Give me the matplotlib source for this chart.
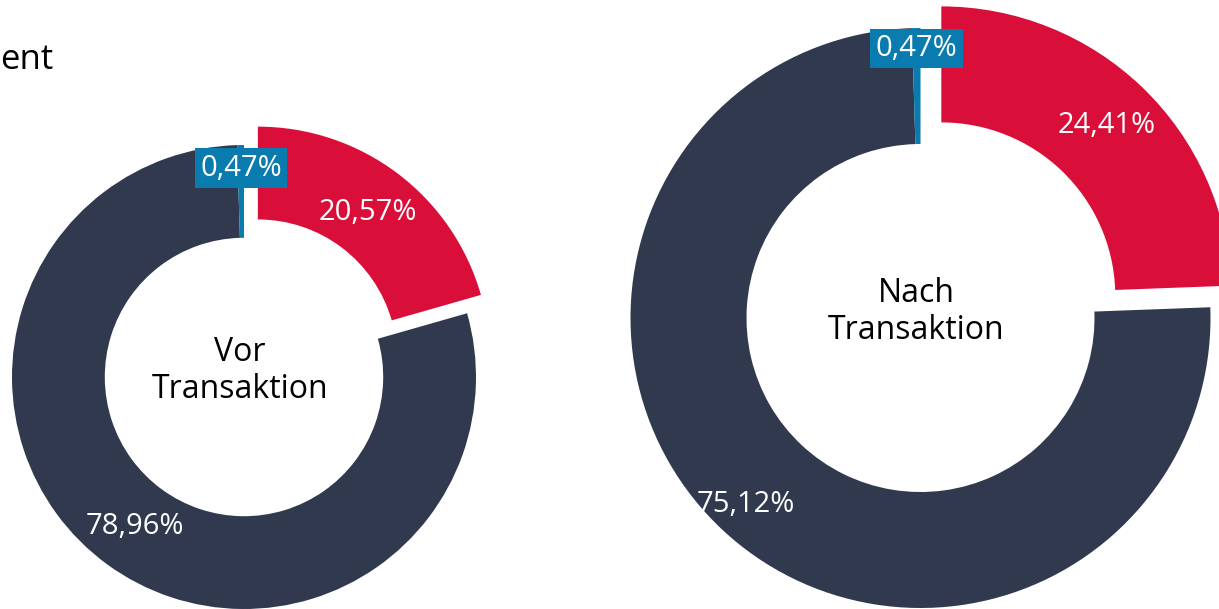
import math
import matplotlib
matplotlib.use("Agg")
import matplotlib.pyplot as plt

# Anteile in Prozent (Reihenfolge: rot, dunkel, blau)
vor_werte = [20.57, 78.96, 0.47]
nach_werte = [24.41, 75.12, 0.47]
titel_vor = "Vor\nTransaktion"
titel_nach = "Nach\nTransaktion"
farben = ["#d90f3a", "#31394f", "#0a7bae"]

plt.rcParams["font.family"] = ["Open Sans", "DejaVu Sans"]

fig = plt.figure(figsize=(12.19, 6.09), dpi=100)
ax = fig.add_axes([0, 0, 1, 1])


def donut(werte, cx, cy, r, explode, abstaende, titel):
    wedges, _ = ax.pie(werte, colors=farben, startangle=90, counterclock=False,
                       explode=[explode, 0, 0], radius=r, center=(cx, cy),
                       wedgeprops=dict(width=0.4 * r, linewidth=0))
    for w, v, d, farbe in zip(wedges, werte, abstaende, farben):
        winkel = math.radians((w.theta1 + w.theta2) / 2)
        x = w.center[0] + d * r * math.cos(winkel)
        y = w.center[1] + d * r * math.sin(winkel)
        text = f"{v:.2f}%".replace(".", ",")
        box = None
        if farbe == farben[2]:
            box = dict(boxstyle="square,pad=0.18", fc=farben[2], ec="none")
        ax.text(x, y, text, color="white", fontsize=21, ha="center", va="center", bbox=box)
    ax.text(cx - 4, cy + 6, titel, fontsize=23, ha="center", va="center",
            color="black", linespacing=1.15)


donut(vor_werte, 244, 232, 232, 23, [0.79, 0.8, 0.9], titel_vor)
donut(nach_werte, 920.5, 291, 290, 30, [0.82, 0.88, 0.93], titel_nach)

ax.text(0, 549, "ent", fontsize=25, ha="left", va="center", color="black")

ax.set_xlim(0, 1219)
ax.set_ylim(0, 609)
ax.set_aspect("auto")
ax.axis("off")

fig.savefig("out.png", dpi=100)
